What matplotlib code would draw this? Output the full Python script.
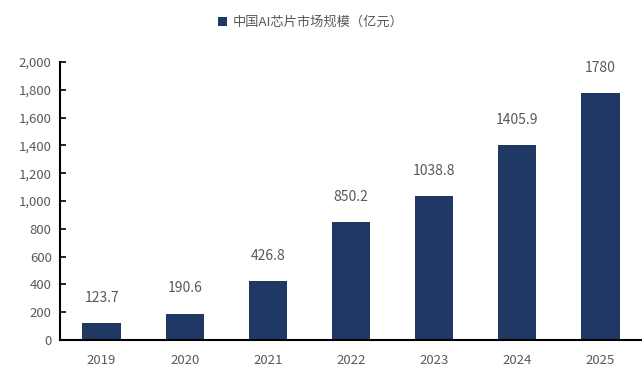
import matplotlib.pyplot as plt
import numpy as np
from matplotlib.ticker import FuncFormatter

plt.rcParams['font.family'] = ['Noto Sans CJK SC', 'DejaVu Sans']

years = ['2019', '2020', '2021', '2022', '2023', '2024', '2025']
values = [123.7, 190.6, 426.8, 850.2, 1038.8, 1405.9, 1780]
labels = ['123.7', '190.6', '426.8', '850.2', '1038.8', '1405.9', '1780']

bar_color = '#1f3864'
text_color = '#595959'

fig = plt.figure(figsize=(6.42, 3.72), dpi=100)
ax = fig.add_axes([0.0935, 0.086, 0.9065, 0.747])

x = np.arange(len(years))
bars = ax.bar(x, values, width=0.46, color=bar_color)

for xi, v, lab in zip(x, values, labels):
    ax.annotate(lab, (xi, v), xytext=(0, 13), textcoords='offset points',
                ha='center', va='bottom', fontsize=10, color=text_color)

ax.set_xlim(-0.5, len(years) - 0.5)
ax.set_ylim(0, 2000)
ax.set_yticks(range(0, 2001, 200))
ax.yaxis.set_major_formatter(FuncFormatter(lambda v, p: f'{int(v):,}'))
ax.set_xticks(x)
ax.set_xticklabels(years)

ax.spines['top'].set_visible(False)
ax.spines['right'].set_visible(False)
ax.spines['left'].set_linewidth(1.5)
ax.spines['bottom'].set_linewidth(1.5)
ax.tick_params(axis='y', direction='in', length=4, width=1.2, colors='black',
               labelcolor=text_color, labelsize=9.5, pad=6)
ax.tick_params(axis='x', length=0, labelcolor=text_color, labelsize=9.5, pad=10)

fig.legend(handles=[bars], labels=['中国AI芯片市场规模（亿元）'], loc='center',
           bbox_to_anchor=(0.484, 0.94), frameon=False, fontsize=9.5,
           handlelength=0.7, handleheight=0.7, handletextpad=0.4,
           labelcolor=text_color)

fig.savefig('out.png', dpi=100)
